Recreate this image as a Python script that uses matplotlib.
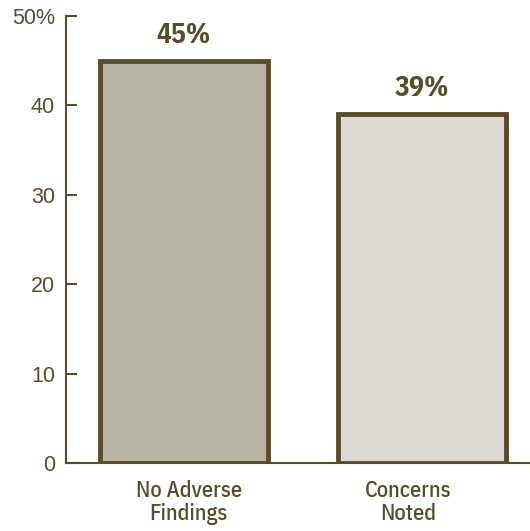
import matplotlib
matplotlib.use("Agg")
import matplotlib.pyplot as plt

categories = ["No Adverse\nFindings", "Concerns\nNoted"]
values = [45, 39]
fills = ["#b8b5a5", "#dcd9d3"]
ytick_vals = [0, 10, 20, 30, 40, 50]
ytick_labels = ["0", "10", "20", "30", "40", "50%"]

ink = "#594c27"
# horizontal nudge (points) of each category caption relative to its bar
label_nudge = [3.6, -9.4]

fig = plt.figure(figsize=(5.30, 5.31), dpi=100)
ax = fig.add_axes([66 / 530, 1 - 463 / 531, 464 / 530, 447 / 531])

x = list(range(len(values)))
ax.bar(x, values, width=0.706, color=fills, edgecolor=ink, linewidth=3.5, zorder=3)

ax.set_xlim(-0.494, 1.455)
ax.set_ylim(0, 50)

for s in ("top", "right"):
    ax.spines[s].set_visible(False)
for s in ("left", "bottom"):
    ax.spines[s].set_color(ink)
    ax.spines[s].set_linewidth(1.5)

ax.set_yticks(ytick_vals)
ax.set_yticklabels(ytick_labels, family="Liberation Sans", fontsize=15.5, color=ink)
ax.tick_params(axis="y", direction="in", length=8, width=1.5, color=ink, pad=8)
ax.set_xticks([])

for xi, cat, dx in zip(x, categories, label_nudge):
    ax.annotate(cat, (xi, 0), xycoords=("data", "axes fraction"),
                xytext=(dx, -12), textcoords="offset points",
                ha="center", va="top", family="IBM Plex Sans Condensed",
                fontweight=500, fontsize=16, color=ink, linespacing=1.05)

for xi, v in zip(x, values):
    ax.annotate(f"{v}%", (xi, v), xytext=(0, 13), textcoords="offset points",
                ha="center", va="baseline", family="IBM Plex Sans Condensed",
                fontweight="bold", fontsize=20, color=ink)

fig.savefig("out.png", dpi=100)
